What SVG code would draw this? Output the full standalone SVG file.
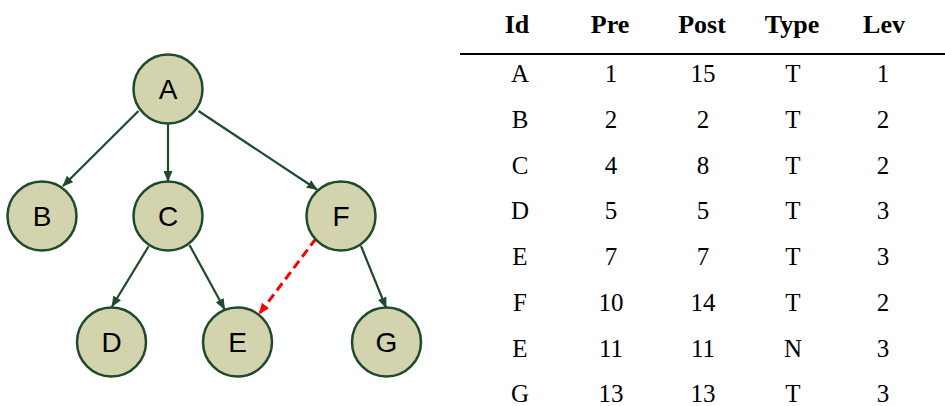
<svg xmlns="http://www.w3.org/2000/svg" width="945" height="406" viewBox="0 0 945 406">
  <style>
    .node circle { fill: #d3d3ae; stroke: #1f4a2c; stroke-width: 2.5; }
    .node text { font-family: "Liberation Sans", Arial, sans-serif; font-size: 28px; fill: #000; text-anchor: middle; }
    .edge { stroke: #1f4a2c; stroke-width: 2.2; fill: none; marker-end: url(#arrow); }
    .cross { stroke: #ff0000; stroke-width: 3; stroke-dasharray: 9 5; fill: none; marker-end: url(#arrow-red); }
    .th { font-family: "Liberation Serif", "Times New Roman", serif; font-size: 26px; font-weight: bold; text-anchor: middle; fill: #000; }
    .td { font-family: "Liberation Serif", "Times New Roman", serif; font-size: 25px; text-anchor: middle; fill: #000; }
  </style>
  <defs>
    <marker id="arrow" markerUnits="userSpaceOnUse" markerWidth="11" markerHeight="9" refX="10" refY="4.5" orient="auto">
      <path d="M0,0 L11,4.5 L0,9 z" fill="#1f4a2c"/>
    </marker>
    <marker id="arrow-red" markerUnits="userSpaceOnUse" markerWidth="11" markerHeight="9" refX="10" refY="4.5" orient="auto">
      <path d="M0,0 L11,4.5 L0,9 z" fill="#ff0000"/>
    </marker>
  </defs>

  <rect width="945" height="406" fill="#ffffff"/>

  <!-- tree edges -->
  <g id="edges">
    <line class="edge" x1="138.5" y1="111" x2="63" y2="186"/>
    <line class="edge" x1="168" y1="124" x2="168" y2="181"/>
    <line class="edge" x1="198.5" y1="111" x2="317" y2="189.5"/>
    <line class="edge" x1="148.5" y1="246.5" x2="112" y2="306.5"/>
    <line class="edge" x1="189.5" y1="245" x2="224.5" y2="309"/>
    <line class="edge" x1="361" y1="246" x2="386" y2="307.5"/>
    <line class="cross" x1="316" y1="238.5" x2="259.5" y2="313.5"/>
  </g>

  <!-- tree nodes -->
  <g id="node-A" class="node"><circle cx="168" cy="89" r="34.5"/><text x="168" y="99">A</text></g>
  <g id="node-B" class="node"><circle cx="42" cy="216" r="34.5"/><text x="42" y="226">B</text></g>
  <g id="node-C" class="node"><circle cx="168" cy="216" r="34.5"/><text x="168" y="226">C</text></g>
  <g id="node-F" class="node"><circle cx="341" cy="216" r="34.5"/><text x="341" y="226">F</text></g>
  <g id="node-D" class="node"><circle cx="111.5" cy="342" r="34.5"/><text x="111.5" y="352">D</text></g>
  <g id="node-E" class="node"><circle cx="237.5" cy="342" r="34.5"/><text x="237.5" y="352">E</text></g>
  <g id="node-G" class="node"><circle cx="386.5" cy="342" r="34.5"/><text x="386.5" y="352">G</text></g>

  <!-- traversal table -->
  <g id="table">
    <text class="th" x="517" y="33">Id</text>
    <text class="th" x="610" y="33">Pre</text>
    <text class="th" x="702" y="33">Post</text>
    <text class="th" x="792" y="33">Type</text>
    <text class="th" x="884" y="33">Lev</text>
    <line x1="460" y1="54" x2="945" y2="54" stroke="#000" stroke-width="2"/>

    <g class="td">
      <text x="520" y="82">A</text><text x="611" y="82">1</text><text x="703" y="82">15</text><text x="793" y="82">T</text><text x="883" y="82">1</text>
      <text x="520" y="128">B</text><text x="611" y="128">2</text><text x="703" y="128">2</text><text x="793" y="128">T</text><text x="883" y="128">2</text>
      <text x="520" y="174">C</text><text x="611" y="174">4</text><text x="703" y="174">8</text><text x="793" y="174">T</text><text x="883" y="174">2</text>
      <text x="520" y="219">D</text><text x="611" y="219">5</text><text x="703" y="219">5</text><text x="793" y="219">T</text><text x="883" y="219">3</text>
      <text x="520" y="265">E</text><text x="611" y="265">7</text><text x="703" y="265">7</text><text x="793" y="265">T</text><text x="883" y="265">3</text>
      <text x="520" y="311">F</text><text x="611" y="311">10</text><text x="703" y="311">14</text><text x="793" y="311">T</text><text x="883" y="311">2</text>
      <text x="520" y="357">E</text><text x="611" y="357">11</text><text x="703" y="357">11</text><text x="793" y="357">N</text><text x="883" y="357">3</text>
      <text x="520" y="402">G</text><text x="611" y="402">13</text><text x="703" y="402">13</text><text x="793" y="402">T</text><text x="883" y="402">3</text>
    </g>
  </g>
</svg>
